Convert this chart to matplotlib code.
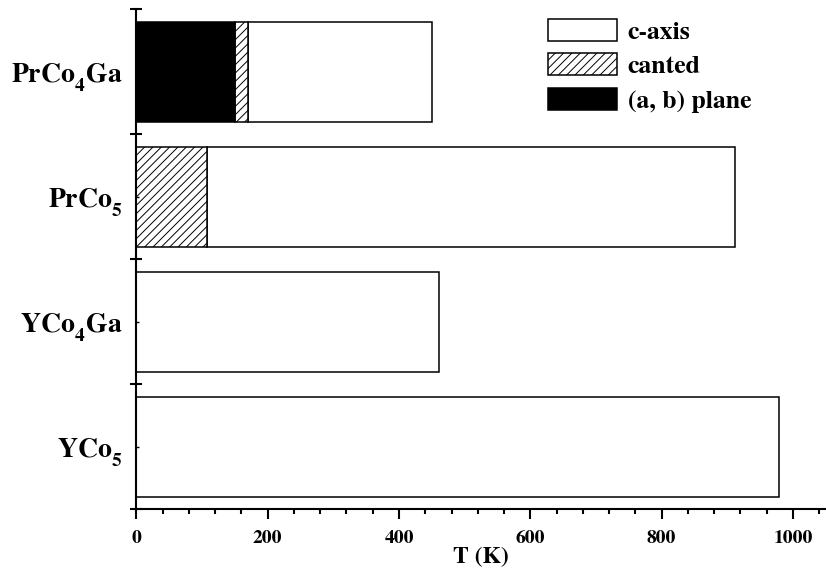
import matplotlib
matplotlib.use("Agg")
import matplotlib.pyplot as plt
import matplotlib._mathtext as mathtext_internal
import numpy as np

# Data (bottom to top)
compounds = [r"$\mathbf{YCo}_\mathbf{5}$", r"$\mathbf{YCo}_\mathbf{4}\mathbf{Ga}$",
             r"$\mathbf{PrCo}_\mathbf{5}$", r"$\mathbf{PrCo}_\mathbf{4}\mathbf{Ga}$"]
ab_plane = [0, 0, 0, 150]       # (a, b) plane up to T
canted = [0, 0, 107, 20]        # canted range width
t_curie = [978, 461, 911, 450]  # end of c-axis range

plt.rcParams["font.family"] = "STIXGeneral"
plt.rcParams["font.weight"] = "bold"
plt.rcParams["mathtext.fontset"] = "stix"
plt.rcParams["hatch.linewidth"] = 0.7
# drop subscripts lower, like the original figure
mathtext_internal.STIXFontConstants.sub1 = 0.75

fig = plt.figure(figsize=(8.26, 5.71), dpi=100)
ax = fig.add_axes([136.3 / 826, 1 - 509.3 / 571, 689.5 / 826, 500 / 571])

y = np.arange(len(compounds))
plane = np.array(ab_plane)
cant = np.array(canted)
tc = np.array(t_curie)
c_start = plane + cant

ax.barh(y, tc - c_start, left=c_start, height=0.8, color="white",
        edgecolor="black", linewidth=1.1, label="c-axis")
ax.barh(y, cant, left=plane, height=0.8, color="white", edgecolor="black",
        hatch="////", linewidth=1.1, label="canted")
ax.barh(y, plane, height=0.8, color="black", edgecolor="black",
        linewidth=1.1, label="(a, b) plane")

ax.set_xlim(0, 1050)
ax.set_ylim(-0.5, 3.5)

ax.spines["top"].set_visible(False)
ax.spines["right"].set_visible(False)
ax.spines["left"].set_linewidth(1.5)
ax.spines["bottom"].set_linewidth(1.5)

ax.set_xticks(np.arange(0, 1001, 200))
ax.set_xticks(np.arange(0, 1050, 40), minor=True)
ax.tick_params(axis="x", which="major", direction="out", length=7, width=1.5,
               labelsize=14, pad=8)
ax.tick_params(axis="x", which="minor", direction="out", length=3.5, width=1.5)

ax.set_yticks(np.arange(-0.5, 3.6, 1.0))
ax.set_yticklabels([])
ax.set_yticks(y, compounds, minor=True)
ax.tick_params(axis="y", which="major", direction="inout", length=8, width=1.5)
ax.tick_params(axis="y", which="minor", direction="in", length=2, width=1,
               labelsize=20, pad=10)

ax.set_xlabel("T (K)", fontsize=17, fontweight="bold", labelpad=0)

handles, labels = ax.get_legend_handles_labels()
ax.legend(handles, labels, loc="upper left",
          bbox_to_anchor=(548 / 826, 1 - 19 / 571), bbox_transform=fig.transFigure,
          frameon=False, fontsize=18.5, handlelength=2.7, handleheight=0.92,
          labelspacing=0.38, handletextpad=0.4, borderpad=0, borderaxespad=0)

fig.savefig("out.png", dpi=100)
